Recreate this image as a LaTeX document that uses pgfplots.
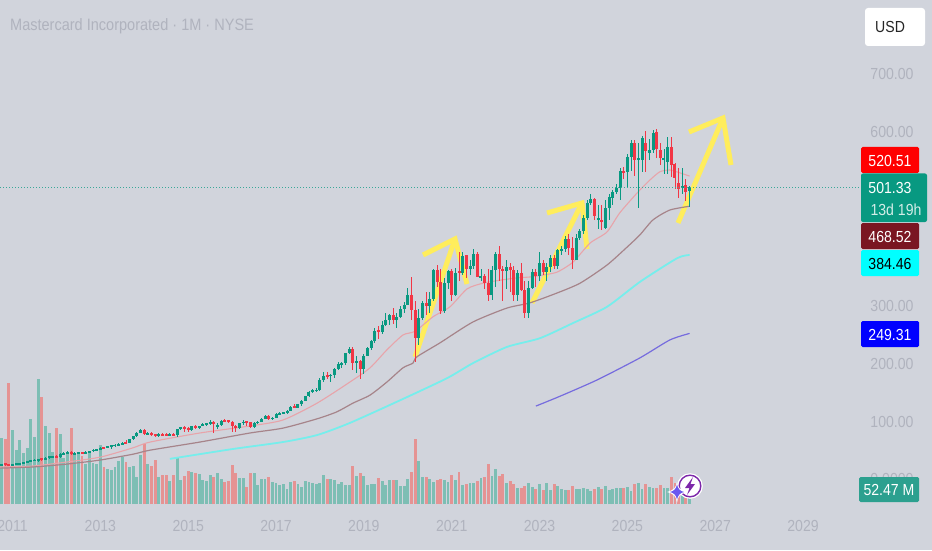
\documentclass[border=0pt]{standalone}
\usepackage{pgfplots}
\usepackage{pgfplotstable}
\usepackage{fontspec}
\setmainfont[FakeStretch=0.88]{Liberation Sans}
\pgfplotsset{compat=1.18}
\definecolor{bgc}{RGB}{209,212,220}
\definecolor{upc}{RGB}{8,153,129}
\definecolor{dnc}{RGB}{242,54,69}
\definecolor{volup}{RGB}{125,190,180}
\definecolor{voldn}{RGB}{229,147,147}
\definecolor{ma20}{RGB}{232,164,170}
\definecolor{ma50}{RGB}{166,132,138}
\definecolor{ma100}{RGB}{118,238,236}
\definecolor{ma200}{RGB}{118,108,222}
\definecolor{yel}{RGB}{255,237,92}
\definecolor{lbl}{RGB}{176,179,190}
\definecolor{bred}{RGB}{255,0,0}
\definecolor{bdark}{RGB}{122,22,34}
\definecolor{bcyan}{RGB}{0,255,255}
\definecolor{bblue}{RGB}{0,0,255}
\definecolor{bteal}{RGB}{44,160,143}
\definecolor{purp}{RGB}{125,40,170}
\definecolor{star}{RGB}{108,88,240}
\pgfplotstableread{
i o h l c v
-3 22.5 24.5 22 24 199
-2 24 24.5 21.5 23.7 195
-1 23.7 24 21.5 22.4 362
0 22.4 24 21.5 23.6 222
1 23.6 25 23 24 162
2 24 25.5 23 25.2 192
3 25.2 28 25 27.6 152
4 27.6 29.5 27 28.7 167
5 28.7 30.5 27.5 30.1 254
6 30.1 32.5 29.5 30.3 202
7 30.3 33 27 32.7 375
8 32.7 33 29 31.7 322
9 31.7 35.5 31 34.7 234
10 34.7 38 33 37.5 212
11 36.5 38.5 34.5 37.3 157
12 37.3 39 34.5 35.6 227
13 35.6 42.5 35 42 210
14 41.8 44 40 42.1 137
15 42 46 41 45.2 152
16 45.2 46 39.5 40.7 227
17 40.7 44 39 43 152
18 43 44 41 43.6 157
19 43.6 44.5 41 42.2 144
20 42.2 46 42 45.1 120
21 45.1 47 44.5 46 152
22 46 49.5 45 48.9 124
23 48.9 50 47 49.1 120
24 49.1 53 49 51.8 177
25 51.8 53.5 49.5 51.7 112
26 51.7 55 51 54.1 104
27 54.1 56 50 55.3 102
28 55.3 59 54 57 110
29 57 59.5 55 57.5 130
30 57.5 62 57 61 142
31 61 66 60 60.6 127
32 60.6 68 60 67.3 112
33 67.3 72.5 66 71.8 114
34 71.8 80 71 78.2 80
35 78.2 84 77 83.5 147
36 83.5 84.5 74 75.7 180
37 75.7 79 73.5 77.6 120
38 77.6 80 73 74.7 114
39 74.7 76 70 73.5 132
40 73.5 78 71 76.4 82
41 76.4 77.5 72.5 73.5 87
42 74.5 77 72 74.2 87
43 74.2 77 73 75.8 69
44 75.8 78 73 73.9 87
45 73.9 84 71 83.7 137
46 83.7 88 82 87.3 72
47 87.3 89 80 86.2 84
48 86.2 88 80 82 100
49 82 90 81 90 96
50 90 92 85 86.4 92
51 86.4 90.5 85 90.2 90
52 90.2 94 89 92.3 72
53 92.3 95 90 93.5 70
54 93.5 100 91 97.4 88
55 97.4 99 78 92.5 82
56 90 95 85 91 92
57 91 100 90 99 74
58 99 101 96 97.9 66
59 97.9 100 95 97.4 69
60 97.4 97.5 79 89 118
61 89 92 80 86.9 94
62 87 95 85 94.5 78
63 94.5 100 92 97 78
64 97 98 90 96 52
65 96 97 86 88.1 92
66 88.1 96 87 95.2 92
67 95.2 98 93 96.6 57
68 96.6 103 96 101.8 74
69 101.8 109 101 107 74
70 107 108 100 102.2 82
71 102.2 105 100 103.3 67
72 103.3 112 103 110.3 62
73 110.3 113 108 110.5 58
74 110.5 114 110 112.5 60
75 112.5 118 111 116.3 46
76 116.3 124 116 122.9 66
77 122.9 127 120 121.5 69
78 121.5 128 120 127.8 60
79 127.8 134 125 133.3 52
80 133.3 142 132 141.2 70
81 141.2 150 140 148.8 66
82 148.8 153 147 150.5 64
83 150.5 155 149 151.4 59
84 151.4 172 150 169 62
85 169 183 165 175.8 88
86 177 183 170 175.2 75
87 175.2 180 165 178.3 76
88 178.3 190 172 188 73
89 188 200 186 196.5 60
90 196.5 200 190 198 65
91 198 216 195 215.6 57
92 215.6 226 213 222.6 57
93 222.6 225 187 197.7 114
94 197.7 210 181 201 84
95 201 204 171 188.7 92
96 188.7 213 180 211 84
97 211 226 210 224.8 56
98 224.8 238 220 235.4 59
99 235.4 258 233 254.3 59
100 254.3 262 240 251.5 77
101 251.5 270 248 264.5 69
102 264.5 284 262 272.3 56
103 272.3 283 263 281.4 71
104 281.4 293 265 271.6 72
105 271.6 285 258 276.8 72
106 276.8 296 275 292.2 55
107 292.2 303 285 298.6 53
108 298.6 327 298 316 74
109 316 347 273 290.3 97
110 290.3 305 200 241.6 194
111 241.6 292 230 275 129
112 275 305 273 300.9 81
113 300.9 320 281 295.7 80
114 295.7 320 285 308.5 74
115 308.5 360 306 358.2 66
116 358.2 367 330 338.2 72
117 338.2 360 282 288.6 75
118 288.6 345 285 336.5 72
119 336.5 358 325 356.9 67
120 356.9 360 306 316.3 87
121 316.3 362 313 353.9 72
122 357 390 340 354 96
123 354 390 350 382 58
124 384 385 345 360.6 60
125 360.6 375 350 365 63
126 365 395 360 386 64
127 386 390 346 346 69
128 346 360 340 347.7 77
129 347.7 352 325 335.5 81
130 335.5 360 305 315 121
131 315 365 307 359 84
132 359 390 330 386 105
133 386 400 340 360.8 84
134 360.8 365 305 357 89
135 357 375 325 363 62
136 363 370 320 357.9 69
137 357.9 365 305 315.5 60
138 315.5 358 305 353.8 48
139 353.8 370 322 324.4 49
140 324.4 340 276 284.3 54
141 284.3 340 276 328 62
142 328 360 325 356 52
143 356 360 330 347.7 46
144 347.7 390 340 370.6 59
145 370.6 375 350 355 41
146 355 370 340 363.4 62
147 363.4 385 355 380 42
148 380 385 360 365 59
149 365 395 360 393 55
150 393 400 385 394 46
151 394 418 390 412.6 43
152 412.6 420 385 395.9 43
153 395.9 415 360 376.4 55
154 376.4 420 375 413.8 45
155 413.8 430 410 426.5 45
156 426.5 453 420 449 48
157 449 480 445 474.7 44
158 474.7 490 470 481.6 40
159 481.6 483 445 451 45
160 445 470 430 447 51
161 444 470 428 441 46
162 431 480 430 465 54
163 465 490 445 484 43
164 483 497 470 493.8 46
165 493.8 507 490 499.6 47
166 499.6 534 480 530 47
167 530 537 515 526 47
168 528 558 502 554 52
169 554 582 530 577 38
170 577 583 520 548 59
171 549 577 465 551 62
172 548 590 528 586 44
173 578 598 528 563 59
174 560 585 548 565 50
175 565 600 560 594 49
176 597 601 551 568 49
177 565 577 540 551 57
178 549 567 525 552 48
179 545 588 525 571 48
180 570 588 519 540 80
181 541 543 499 517 62
182 509 534 482 499 37
183 501 534 490 503 30
184 505 515 478 493 50
185 494 503 467 501.33 52.47
}\ohlc
\pgfplotstableread{
i p
-3.4 19
5.6 20.7
14.9 27.6
24 36
32.9 52
37.6 62
51.2 77.6
64.9 89.7
73.9 100
83.2 129
92.2 165.5
97.7 190
102.3 221
106.7 246.6
110 253
114.9 278
119.5 295
124.2 326
128.6 336
133.2 341
137.8 345
141.4 346.6
145 350
148.8 355
153.1 372
157.8 405
162.4 424
165.9 457
170.6 491
174.2 514
176.9 528
179.6 531
182.4 526
185 520.51
}\mafast
\pgfplotstableread{
i p
-3.4 17
5.6 19
14.9 24
24 31
32.9 41
37.6 48
51.2 62
64.9 77.6
73.9 86
83.2 102
88.6 114
93 129
97.7 143
102.3 165.5
106.7 190
109.4 198
110.5 209
116.8 233
125.8 269
135.1 293
141.4 302
148.8 319
155.1 336
162.4 367
167.9 398
171.4 419
175 445
179.6 462
185 468.52
}\mamid
\pgfplotstableread{
i p
43 33
60.2 50
73.9 62
83.2 74
92.2 95
105.9 134
118.7 172
125.8 198
135.1 226
144.1 241
153.1 267
162.4 295
171.4 338
181.6 379
185 384.46
}\maslow
\pgfplotstableread{
i p
143 124
149.6 141
159.7 169
171.4 207
179.6 238
185 249.31
}\mavslow
\newcommand{\lab}{\fontsize{16}{16}\selectfont}
\begin{document}
\begin{tikzpicture}
\path[use as bounding box] (0,0) rectangle (932pt,550pt);
\fill[bgc] (0,0) rectangle (932pt,550pt);
% volume
\begin{axis}[at={(0pt,0pt)},anchor=south west,scale only axis,width=932pt,height=550pt,
  xmin=-3.4153,xmax=251.23,ymin=-138,ymax=1512,hide axis]
\addplot[ycomb,no markers,line width=2.9pt,color=volup] table[x=i,y expr={\thisrow{c}>=\thisrow{o} ? \thisrow{v} : nan}] {\ohlc};
\addplot[ycomb,no markers,line width=2.9pt,color=voldn] table[x=i,y expr={\thisrow{c}<\thisrow{o} ? \thisrow{v} : nan}] {\ohlc};
\end{axis}
% hand-drawn arrows (pixel coordinates, y down)
\begin{scope}[x=1pt,y=-1pt,yshift=550pt,yel,line width=5pt,line cap=butt,line join=miter]
\draw (423,255)--(455,239)--(467,284);
\draw (415,357)--(455,239);
\draw (547,213)--(582,203)--(587,249);
\draw (532,303)--(582,203);
\draw (689,132)--(723,118)--(731,165);
\draw (678,223)--(723,118);
\end{scope}
% price
\begin{axis}[at={(0pt,0pt)},anchor=south west,scale only axis,width=932pt,height=550pt,
  xmin=-3.4153,xmax=251.23,ymin=-124.14,ymax=824.14,
  axis line style={draw=none},tick style={draw=none},major tick length=0pt,
  xtick={0,24,48,72,96,120,144,168,192,216},
  xticklabels={2011,2013,2015,2017,2019,2021,2023,2025,2027,2029},
  ytick={100,200,300,600,700},
  yticklabels={100.00,200.00,300.00,600.00,700.00},
  yticklabel pos=right,
  x tick label style={anchor=center,yshift=24pt,text=lbl,font=\lab},
  y tick label style={anchor=center,xshift=-40pt,yshift=-2pt,text=lbl,font=\lab}]
\addplot[ma20,line width=1.1pt,forget plot,smooth,tension=0.4] table[x=i,y=p] {\mafast};
\addplot[ma50,line width=1.2pt,forget plot,smooth,tension=0.4] table[x=i,y=p] {\mamid};
\addplot[ma100,line width=1.8pt,forget plot,smooth,tension=0.4] table[x=i,y=p] {\maslow};
\addplot[ma200,line width=1.2pt,forget plot,smooth,tension=0.4] table[x=i,y=p] {\mavslow};
\addplot[draw=none,no markers,forget plot,error bars/.cd,y dir=both,y explicit,error mark=none,error bar style={draw=upc,line width=0.9pt}]
  table[x=i,y expr={\thisrow{c}>=\thisrow{o} ? (\thisrow{h}+\thisrow{l})/2 : nan},y error expr={(\thisrow{h}-\thisrow{l})/2}] {\ohlc};
\addplot[draw=none,no markers,forget plot,error bars/.cd,y dir=both,y explicit,error mark=none,error bar style={draw=dnc,line width=0.9pt}]
  table[x=i,y expr={\thisrow{c}<\thisrow{o} ? (\thisrow{h}+\thisrow{l})/2 : nan},y error expr={(\thisrow{h}-\thisrow{l})/2}] {\ohlc};
\addplot[draw=none,no markers,forget plot,error bars/.cd,y dir=both,y explicit,error mark=none,error bar style={draw=upc,line width=3pt}]
  table[x=i,y expr={\thisrow{c}>=\thisrow{o} ? (\thisrow{o}+\thisrow{c})/2 : nan},y error expr={max(abs(\thisrow{c}-\thisrow{o})/2,1.5)}] {\ohlc};
\addplot[draw=none,no markers,forget plot,error bars/.cd,y dir=both,y explicit,error mark=none,error bar style={draw=dnc,line width=3pt}]
  table[x=i,y expr={\thisrow{c}<\thisrow{o} ? (\thisrow{o}+\thisrow{c})/2 : nan},y error expr={max(abs(\thisrow{c}-\thisrow{o})/2,1.5)}] {\ohlc};
\draw[upc!75!bgc,line width=0.8pt,dash pattern=on 1pt off 2pt] (axis cs:-3.4,501.33)--(axis cs:232,501.33);
\end{axis}
\begin{scope}[x=1pt,y=-1pt,yshift=550pt]
\node[anchor=west,text=lbl,font=\fontsize{16.5}{16.5}\selectfont,inner sep=0pt] at (10,26) {Mastercard Incorporated · 1M · NYSE};
% scale column
\fill[white,rounded corners=3pt] (865,8) rectangle (925,46);
\node[anchor=west,text=black!85,font=\lab,inner sep=0pt] at (875,26.5) {USD};
\fill[bred,rounded corners=1.5pt] (861,147) rectangle (919,173);
\node[text=white,font=\lab,inner sep=0pt] at (890,160.5) {520.51};
\fill[upc,rounded corners=2pt] (861,173.5) rectangle (927,222);
\node[text=white,font=\lab,inner sep=0pt] at (890,188) {501.33};
\node[text=white!82!upc,font=\lab,inner sep=0pt] at (896,210) {13d 19h};
\fill[bdark,rounded corners=1.5pt] (861,223) rectangle (919,249);
\node[text=white,font=\lab,inner sep=0pt] at (890,236.5) {468.52};
\fill[bcyan,rounded corners=1.5pt] (861,250) rectangle (919,276);
\node[text=black,font=\lab,inner sep=0pt] at (890,263.5) {384.46};
\fill[bblue,rounded corners=1.5pt] (861,321) rectangle (919,347);
\node[text=white,font=\lab,inner sep=0pt] at (890,334.5) {249.31};
\node[text=lbl,font=\lab,inner sep=0pt] at (892,479) {0.0000};
\fill[bteal,rounded corners=1.5pt] (859,477) rectangle (919,502);
\node[text=white,font=\lab,inner sep=0pt] at (889,490) {52.47 M};
% badge icon
\fill[white] (690,486) circle (12.8);
\draw[line width=1.4pt,purp] (690,486) circle (10.8);
\fill[purp] (693,477)--(685,488)--(689.5,488)--(687,495)--(695,484)--(690.5,484)--cycle;
\fill[white] (677,481.5) .. controls (678,488) and (680,490) .. (687,492) .. controls (680,494) and (678,496) .. (677,502.5) .. controls (676,496) and (674,494) .. (667,492) .. controls (674,490) and (676,488) .. (677,481.5)--cycle;
\fill[star] (677,484.5) .. controls (678,489) and (680,491) .. (684,492) .. controls (680,493) and (678,495) .. (677,499.5) .. controls (676,495) and (674,493) .. (670,492) .. controls (674,491) and (676,489) .. (677,484.5)--cycle;
\end{scope}
\end{tikzpicture}
\end{document}
